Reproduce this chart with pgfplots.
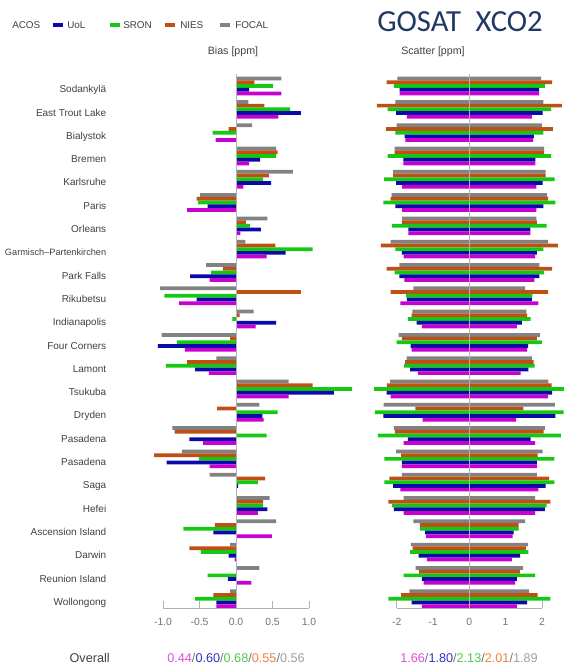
\documentclass[border=0pt]{standalone}
\usepackage{pgfplots}
\pgfplotsset{compat=1.18}
\usepackage{pgfplotstable}
\usepackage{fontspec}
\setmainfont{Liberation Sans}
\newfontfamily\titlefont{Carlito}
\definecolor{cacos}{RGB}{200,0,210}
\definecolor{cuol}{RGB}{10,10,170}
\definecolor{csron}{RGB}{20,200,20}
\definecolor{cnies}{RGB}{190,80,20}
\definecolor{cfocal}{RGB}{130,130,130}
\definecolor{tacos}{RGB}{220,80,220}
\definecolor{tuol}{RGB}{50,50,200}
\definecolor{tsron}{RGB}{80,200,80}
\definecolor{tnies}{RGB}{240,130,60}
\definecolor{tfocal}{RGB}{160,160,160}
\definecolor{ctitle}{RGB}{31,56,100}

% idx 0 = Wollongong (bottom) ... 22 = Sodankyla (top)
\pgfplotstableread{
idx acos uol sron nies focal
0 -0.27 -0.27 -0.56 -0.31 -0.08
1 0.21 -0.11 -0.39 0.00 0.32
2 -0.02 -0.10 -0.48 -0.64 -0.08
3 0.49 -0.31 -0.72 -0.29 0.55
4 0.30 0.43 0.37 0.37 0.46
5 0.00 0.03 0.30 0.40 -0.36
6 -0.36 -0.95 -0.51 -1.12 -0.74
7 -0.45 -0.64 0.42 -0.84 -0.87
8 0.38 0.36 0.57 -0.26 0.32
9 0.72 1.34 1.59 1.05 0.72
10 -0.37 -0.56 -0.96 -0.67 -0.27
11 -0.70 -1.07 -0.81 -0.08 -1.02
12 0.27 0.55 -0.05 0.05 0.24
13 -0.78 -0.54 -0.98 0.89 -1.04
14 -0.36 -0.63 -0.34 -0.18 -0.41
15 0.42 0.68 1.05 0.54 0.13
16 0.06 0.34 0.19 0.14 0.43
17 -0.67 -0.39 -0.52 -0.54 -0.49
18 0.10 0.48 0.37 0.45 0.78
19 0.18 0.33 0.55 0.57 0.55
20 -0.28 0.00 -0.32 -0.10 0.22
21 0.58 0.89 0.74 0.39 0.17
22 0.62 0.18 0.51 0.25 0.62
}\biastab

\pgfplotstableread{
idx acos uol sron nies focal
0 1.31 1.59 2.23 1.88 1.65
1 1.26 1.31 1.81 1.39 1.48
2 1.17 1.40 1.63 1.56 1.61
3 1.19 1.22 1.36 1.36 1.54
4 1.81 2.08 2.13 2.23 1.81
5 1.90 2.10 2.34 2.20 1.86
6 1.86 1.86 2.34 1.88 2.02
7 1.81 1.69 2.52 2.05 2.08
8 1.29 2.37 2.60 1.49 2.36
9 2.17 2.28 2.62 2.27 2.18
10 1.41 1.63 1.80 1.77 1.73
11 1.59 1.62 2.00 1.86 1.95
12 1.31 1.45 1.69 1.59 1.57
13 1.90 1.72 1.74 2.17 1.54
14 1.79 1.93 2.06 2.28 1.93
15 1.81 1.86 2.04 2.44 2.17
16 1.68 1.68 2.13 1.86 1.85
17 1.85 2.04 2.37 2.17 2.14
18 1.85 2.02 2.35 2.10 2.10
19 1.82 1.82 2.25 2.06 2.06
20 1.76 1.78 2.04 2.30 2.00
21 1.72 2.02 2.25 2.55 2.04
22 1.92 1.92 2.08 2.28 1.98
}\scattab

\pgfplotsset{
  common/.style={
    scale only axis, height=400.2pt, ymin=-0.4, ymax=22.5, clip=false,
    axis x line=bottom, x axis line style={draw=none},
    tick align=inside, major tick length=5.25pt,
    xtick style={black!30, line width=0.5pt},
    xticklabel style={font=\fontsize{7.8}{9}\selectfont, text=black!55, anchor=center, yshift=-10.5pt, inner sep=0pt},
  },
  hb/.style={xbar, bar width=0.16, draw=none, fill=#1},
}

\begin{document}
\begin{tikzpicture}
% ---------------- Bias panel ----------------
\begin{axis}[common,
  at={(111.3pt,45pt)}, anchor=south west, width=156.04pt,
  xmin=-1.2, xmax=1.65,
  xtick={-1,-0.5,0,0.5,1}, xticklabels={-1.0,-0.5,0.0,0.5,1.0},
  axis y line=left, y axis line style={draw=none}, ytick style={draw=none},
  ytick={0,...,22},
  yticklabels={Wollongong,Reunion Island,Darwin,Ascension Island,Hefei,Saga,Pasadena,Pasadena,Dryden,Tsukuba,Lamont,Four Corners,Indianapolis,Rikubetsu,Park Falls,{\fontsize{6.9}{9}\selectfont Garmisch--Partenkirchen},Orleans,Paris,Karlsruhe,Bremen,Bialystok,East Trout Lake,Sodankylä},
  yticklabel style={font=\fontsize{7.5}{9}\selectfont, text=black!75, anchor=base east, inner sep=0pt, xshift=-28.8pt, yshift=-5pt},
]
\addplot[hb=cfocal, bar shift=0.32] table[x=focal, y=idx] {\biastab};
\addplot[hb=cnies, bar shift=0.16] table[x=nies, y=idx] {\biastab};
\addplot[hb=csron, bar shift=0] table[x=sron, y=idx] {\biastab};
\addplot[hb=cuol, bar shift=-0.16] table[x=uol, y=idx] {\biastab};
\addplot[hb=cacos, bar shift=-0.32] table[x=acos, y=idx] {\biastab};
\draw[black!30, line width=0.5pt] (axis cs:-1,-0.4) -- (axis cs:1,-0.4);
\draw[black!30, line width=0.4pt] (axis cs:0,-0.4) -- (axis cs:0,22.5);
\end{axis}

% ---------------- Scatter panel ----------------
\begin{axis}[common,
  at={(278.5pt,45pt)}, anchor=south west, width=147pt,
  xmin=-2.7, xmax=2.7,
  xtick={-2,-1,0,1,2}, xticklabels={-2,-1,0,1,2},
  axis y line=none,
]
\addplot[hb=cfocal, bar shift=0.32] table[x=focal, y=idx] {\scattab};
\addplot[hb=cfocal, bar shift=0.32] table[x expr=-\thisrow{focal}, y=idx] {\scattab};
\addplot[hb=cnies, bar shift=0.16] table[x=nies, y=idx] {\scattab};
\addplot[hb=cnies, bar shift=0.16] table[x expr=-\thisrow{nies}, y=idx] {\scattab};
\addplot[hb=csron, bar shift=0] table[x=sron, y=idx] {\scattab};
\addplot[hb=csron, bar shift=0] table[x expr=-\thisrow{sron}, y=idx] {\scattab};
\addplot[hb=cuol, bar shift=-0.16] table[x=uol, y=idx] {\scattab};
\addplot[hb=cuol, bar shift=-0.16] table[x expr=-\thisrow{uol}, y=idx] {\scattab};
\addplot[hb=cacos, bar shift=-0.32] table[x=acos, y=idx] {\scattab};
\addplot[hb=cacos, bar shift=-0.32] table[x expr=-\thisrow{acos}, y=idx] {\scattab};
\draw[black!30, line width=0.5pt] (axis cs:-2,-0.4) -- (axis cs:2,-0.4);
\draw[black!30, line width=0.4pt] (axis cs:0,-0.4) -- (axis cs:0,22.5);
\end{axis}

% ---------------- Legend ----------------
\begin{scope}[every node/.style={inner sep=0pt, anchor=west, font=\fontsize{7.4}{9}\selectfont, text=black!75}]
\fill[cacos] (-10.5pt,481.1pt) rectangle (-3pt,483.4pt);
\node at (9pt,482.25pt) {ACOS};
\fill[cuol] (39.75pt,481.1pt) rectangle (47.25pt,483.4pt);
\node at (50.25pt,482.25pt) {UoL};
\fill[csron] (82.5pt,481.1pt) rectangle (90pt,483.4pt);
\node at (92.25pt,482.25pt) {SRON};
\fill[cnies] (123.75pt,481.1pt) rectangle (131.25pt,483.4pt);
\node at (135pt,482.25pt) {NIES};
\fill[cfocal] (165pt,481.1pt) rectangle (172.5pt,483.4pt);
\node at (176.25pt,482.25pt) {FOCAL};
\end{scope}

% ---------------- Titles ----------------
\node[inner sep=0pt, text=ctitle, font=\titlefont\fontsize{23}{26}\selectfont] at (345pt,484.5pt) {GOSAT\hspace{0.25em} XCO2};
\node[inner sep=0pt, text=black!75, font=\fontsize{8}{10}\selectfont] at (174.75pt,462pt) {Bias [ppm]};
\node[inner sep=0pt, text=black!75, font=\fontsize{8}{10}\selectfont] at (324.75pt,462pt) {Scatter [ppm]};

% ---------------- Overall ----------------
\node[inner sep=0pt, anchor=east, text=black!75, font=\fontsize{9.5}{11}\selectfont] at (82.5pt,7.5pt) {Overall};
\node[inner sep=0pt, font=\fontsize{9.5}{11}\selectfont, text=black!55] at (177pt,7.5pt)
  {\textcolor{tacos}{0.44}/\textcolor{tuol}{0.60}/\textcolor{tsron}{0.68}/\textcolor{tnies}{0.55}/\textcolor{tfocal}{0.56}};
\node[inner sep=0pt, font=\fontsize{9.5}{11}\selectfont, text=black!55] at (351.75pt,7.5pt)
  {\textcolor{tacos}{1.66}/\textcolor{tuol}{1.80}/\textcolor{tsron}{2.13}/\textcolor{tnies}{2.01}/\textcolor{tfocal}{1.89}};

\pgfresetboundingbox
\path[use as bounding box] (0,0) rectangle (423pt,501pt);
\end{tikzpicture}
\end{document}
